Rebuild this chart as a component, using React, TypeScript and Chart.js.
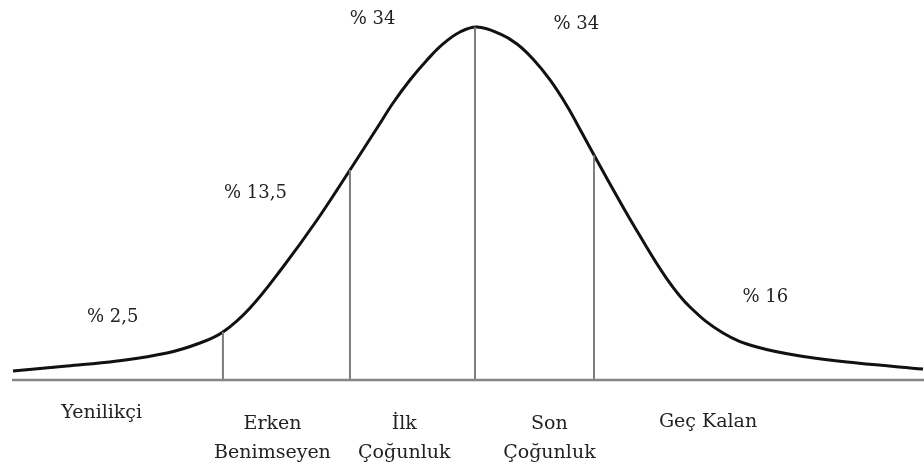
import React, { useEffect, useRef } from "react";
import { Chart, registerables } from "chart.js";

Chart.register(...registerables);

// Curve: x in standard-deviation units (mean = 0), y as density
const curveX = [-3.787, -3.344, -2.934, -2.525, -2.254, -2.066, -1.844, -1.574, -1.295, -1.025, -0.803, -0.672, -0.533, -0.393, -0.262, -0.123, 0.016, 0.205, 0.344, 0.475, 0.615, 0.754, 0.877, 0.984, 1.148, 1.328, 1.574, 1.762, 2.033, 2.311, 2.721, 3.131, 3.672];
const curveY = [0.0102, 0.0158, 0.0215, 0.0305, 0.0418, 0.0542, 0.0814, 0.1277, 0.1808, 0.2373, 0.2847, 0.3130, 0.3390, 0.3616, 0.3797, 0.3932, 0.3989, 0.3910, 0.3797, 0.3627, 0.3390, 0.3096, 0.2791, 0.2520, 0.2113, 0.1684, 0.1141, 0.0825, 0.0531, 0.0373, 0.0260, 0.0192, 0.0124];

// Segment dividers (x) and their heights where they touch the curve
const dividerX = [-2.066, -1.025, 0, 0.975];
const dividerTop = [0.0542, 0.2373, 0.399, 0.254];

// Share labels
const shareLabels = ["% 2,5", "% 13,5", "% 34", "% 34", "% 16"];
const shareX = [-2.97, -1.80, -0.84, 0.83, 2.38];
const shareY = [0.0655, 0.2056, 0.4023, 0.3966, 0.0881];

// Category labels (one or two lines each)
const categoryLines = [["Yenilikçi"], ["Erken", "Benimseyen"], ["İlk", "Çoğunluk"], ["Son", "Çoğunluk"], ["Geç Kalan"]];
const categoryX = [-3.06, -1.66, -0.58, 0.61, 1.91];
const categoryY = [-0.0429, -0.0554, -0.0554, -0.0554, -0.0531];
const lineStep = -0.0333;

const X_MIN = -3.795;
const X_MAX = 3.68;

const labelPlugin = {
  id: "labels",
  afterDatasetsDraw(chart: any) {
    const { ctx, scales } = chart;
    const xs = scales.x;
    const ys = scales.y;
    ctx.save();
    ctx.fillStyle = "#222";
    ctx.textAlign = "center";
    ctx.textBaseline = "alphabetic";
    ctx.font = '18px "DejaVu Serif"';
    shareLabels.forEach((t, i) => {
      ctx.fillText(t, xs.getPixelForValue(shareX[i]), ys.getPixelForValue(shareY[i]));
    });
    ctx.font = '19px "DejaVu Serif"';
    categoryLines.forEach((lines, i) => {
      lines.forEach((t, j) => {
        ctx.fillText(t, xs.getPixelForValue(categoryX[i]), ys.getPixelForValue(categoryY[i] + j * lineStep));
      });
    });
    ctx.restore();
  },
};

export default function App() {
  const ref = useRef<HTMLCanvasElement | null>(null);
  useEffect(() => {
    if (!ref.current) return;
    const curve = curveX.map((x, i) => ({ x, y: curveY[i] }));
    const dividers = dividerX.map((x, i) => ({
      data: [{ x, y: 0 }, { x, y: dividerTop[i] }],
      borderColor: "#7d7d7d",
      borderWidth: 2,
      pointRadius: 0,
      tension: 0,
      clip: false as any,
    }));
    const chart = new Chart(ref.current, {
      type: "line",
      data: {
        datasets: [
          {
            data: [{ x: X_MIN, y: 0 }, { x: X_MAX, y: 0 }],
            borderColor: "#858585",
            borderWidth: 2.5,
            pointRadius: 0,
            tension: 0,
            clip: false as any,
          },
          ...dividers,
          {
            data: curve,
            borderColor: "#111",
            borderWidth: 3,
            pointRadius: 0,
            tension: 0.4,
            clip: false as any,
          },
        ],
      },
      options: {
        responsive: false,
        animation: false,
        parsing: false as any,
        layout: { padding: { left: 12, right: 0, top: 26, bottom: 90 } },
        plugins: { legend: { display: false }, tooltip: { enabled: false } },
        scales: {
          x: { type: "linear", min: X_MIN, max: X_MAX, display: false },
          y: { type: "linear", min: 0, max: 0.4, display: false },
        },
      },
      plugins: [labelPlugin],
    });
    return () => chart.destroy();
  }, []);
  return (
    <div style={{ position: "absolute", left: 0, top: 0, width: 924, height: 470, background: "#fff" }}>
      <canvas ref={ref} width={924} height={470} />
    </div>
  );
}
